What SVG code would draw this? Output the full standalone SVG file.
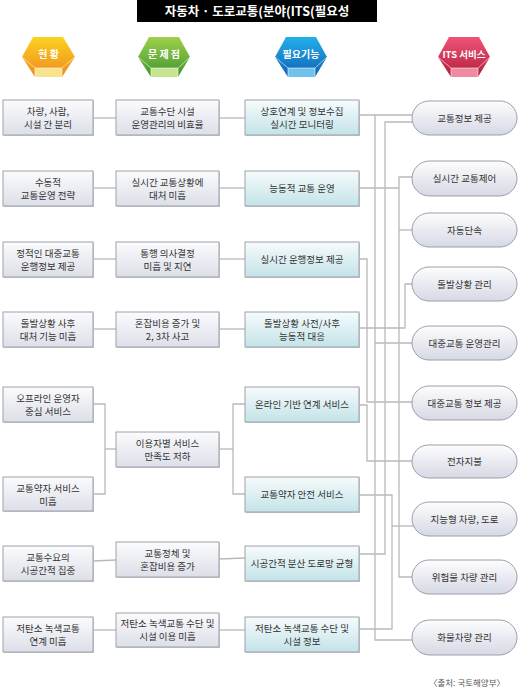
<svg xmlns="http://www.w3.org/2000/svg" width="520" height="695" viewBox="0 0 520 695">
<defs>
<linearGradient id="gBox" x1="0" y1="0" x2="0" y2="1"><stop offset="0" stop-color="#fbfbfd"/><stop offset="1" stop-color="#dcdfe8"/></linearGradient>
<linearGradient id="gCyan" x1="0" y1="0" x2="0" y2="1"><stop offset="0" stop-color="#f6fbfc"/><stop offset="1" stop-color="#c3e3e8"/></linearGradient>
<linearGradient id="gPill" x1="0" y1="0" x2="0" y2="1"><stop offset="0" stop-color="#fdfdfe"/><stop offset="1" stop-color="#d6d8e4"/></linearGradient>
<linearGradient id="gOr" x1="0" y1="0" x2="0" y2="1"><stop offset="0" stop-color="#fcd21f"/><stop offset="1" stop-color="#ee8a20"/></linearGradient>
<linearGradient id="gGr" x1="0" y1="0" x2="0" y2="1"><stop offset="0" stop-color="#9fd04a"/><stop offset="1" stop-color="#3f9530"/></linearGradient>
<linearGradient id="gBl" x1="0" y1="0" x2="0" y2="1"><stop offset="0" stop-color="#22b0ea"/><stop offset="1" stop-color="#1160b5"/></linearGradient>
<linearGradient id="gRd" x1="0" y1="0" x2="0" y2="1"><stop offset="0" stop-color="#ef5476"/><stop offset="1" stop-color="#b31e3e"/></linearGradient>
</defs>
<style>
text{font-family:"Noto Sans CJK KR","Noto Sans",sans-serif;fill:#333;font-size:9.5px;text-anchor:middle}
.box{fill:url(#gBox);stroke:#9fa2aa;stroke-width:1}
.cy{fill:url(#gCyan);stroke:#9fa2aa;stroke-width:1}
.sh{fill:#c9cbd0}
.pill{fill:url(#gPill);stroke:#9c9eab;stroke-width:1}
.ln{fill:none;stroke:#b9b9b9;stroke-width:1.3}
.hx{font-weight:bold;fill:#fff;font-size:10px}
.hedge{fill:none;stroke:#ffffff;stroke-opacity:0.7;stroke-width:0.8}
</style>
<rect x="137" y="0" width="240" height="22" fill="#000"/>
<text x="257" y="16" style="fill:#fff;font-weight:bold;font-size:12.5px">자동차 · 도로교통(분야(ITS(필요성</text>

<g id="h1">
<polygon points="33,37 63,37 75,57 62,77 35,77 22,57" fill="url(#gOr)"/>
<polygon points="35,68 62,68 62,77 35,77" fill="#f8e28c"/>
<polyline class="hedge" points="22,57 35,68 62,68 75,57"/><line class="hedge" x1="35" y1="68" x2="35" y2="77"/><line class="hedge" x1="62" y1="68" x2="62" y2="77"/>
<text class="hx" x="48.5" y="58">현 황</text>
</g>
<g id="h2">
<polygon points="149,37 179,37 190,57 178,77 151,77 138,57" fill="url(#gGr)"/>
<polygon points="151,68 178,68 178,77 151,77" fill="#c7e58e"/>
<polyline class="hedge" points="138,57 151,68 178,68 190,57"/><line class="hedge" x1="151" y1="68" x2="151" y2="77"/><line class="hedge" x1="178" y1="68" x2="178" y2="77"/>
<text class="hx" x="164" y="58">문 제 점</text>
</g>
<g id="h3">
<polygon points="286,37 316,37 327,57 315,77 288,77 275,57" fill="url(#gBl)"/>
<polygon points="288,68 315,68 315,77 288,77" fill="#6fc2ee"/>
<polyline class="hedge" points="275,57 288,68 315,68 327,57"/><line class="hedge" x1="288" y1="68" x2="288" y2="77"/><line class="hedge" x1="315" y1="68" x2="315" y2="77"/>
<text class="hx" x="301" y="58">필요기능</text>
</g>
<g id="h4">
<polygon points="449,37 479,37 490,57 478,77 451,77 438,57" fill="url(#gRd)"/>
<polygon points="451,68 478,68 478,77 451,77" fill="#f08aa0"/>
<polyline class="hedge" points="438,57 451,68 478,68 490,57"/><line class="hedge" x1="451" y1="68" x2="451" y2="77"/><line class="hedge" x1="478" y1="68" x2="478" y2="77"/>
<text class="hx" x="464" y="58" style="font-size:9.5px">ITS 서비스</text>
</g>

<g id="connectors">
<!-- col1 -> col2 -->
<line class="ln" x1="93" y1="118" x2="116" y2="118"/>
<line class="ln" x1="93" y1="188" x2="116" y2="188"/>
<line class="ln" x1="93" y1="259" x2="116" y2="259"/>
<line class="ln" x1="93" y1="329" x2="116" y2="329"/>
<polyline class="ln" points="93,404 105,404 105,494 93,494"/>
<line class="ln" x1="105" y1="449" x2="116" y2="449"/>
<line class="ln" x1="93" y1="561" x2="116" y2="560"/>
<line class="ln" x1="93" y1="630" x2="116" y2="630"/>
<!-- col2 -> col3 -->
<line class="ln" x1="219" y1="118" x2="245" y2="118"/>
<line class="ln" x1="219" y1="188" x2="245" y2="188"/>
<line class="ln" x1="219" y1="259" x2="245" y2="259"/>
<line class="ln" x1="219" y1="329" x2="245" y2="329"/>
<line class="ln" x1="219" y1="449" x2="233" y2="449"/>
<polyline class="ln" points="245,404 233,404 233,494 245,494"/>
<line class="ln" x1="219" y1="559" x2="245" y2="558"/>
<line class="ln" x1="219" y1="630" x2="245" y2="630"/>
<!-- col3 -> services -->
<line class="ln" x1="359" y1="115" x2="414" y2="115"/>
<polyline class="ln" points="375,115 375,640 414,640"/>
<line class="ln" x1="375" y1="343" x2="414" y2="343"/>
<polyline class="ln" points="359,188 399,188"/>
<polyline class="ln" points="414,177 399,177 399,577 414,577"/>
<line class="ln" x1="399" y1="230" x2="414" y2="230"/>
<polyline class="ln" points="359,259 367,259 367,402 414,402"/>
<polyline class="ln" points="359,328 405,328 405,284 414,284"/>
<polyline class="ln" points="359,405 367,405 367,461 414,461"/>
<polyline class="ln" points="359,495 392,495 392,629 359,629"/>
<line class="ln" x1="392" y1="526" x2="414" y2="526"/>
<polyline class="ln" points="359,554 385,554 385,122 414,122"/>
</g>

<!-- column 1 -->
<g id="c1r1"><rect class="sh" x="4" y="101" width="90" height="35"/><rect class="box" x="3" y="100" width="90" height="35"/><text x="48" y="115">차량, 사람,</text><text x="48" y="128">시설 간 분리</text></g>
<g id="c1r2"><rect class="sh" x="4" y="172" width="90" height="35"/><rect class="box" x="3" y="171" width="90" height="35"/><text x="48" y="186">수동적</text><text x="48" y="199">교통운영 전략</text></g>
<g id="c1r3"><rect class="sh" x="4" y="243" width="90" height="35"/><rect class="box" x="3" y="242" width="90" height="35"/><text x="48" y="257">정적인 대중교통</text><text x="48" y="270">운행정보 제공</text></g>
<g id="c1r4"><rect class="sh" x="4" y="313" width="90" height="35"/><rect class="box" x="3" y="312" width="90" height="35"/><text x="48" y="327">돌발상황 사후</text><text x="48" y="340">대처 기능 미흡</text></g>
<g id="c1r5"><rect class="sh" x="4" y="388" width="90" height="35"/><rect class="box" x="3" y="387" width="90" height="35"/><text x="48" y="402">오프라인 운영자</text><text x="48" y="415">중심 서비스</text></g>
<g id="c1r6"><rect class="sh" x="4" y="478" width="90" height="34"/><rect class="box" x="3" y="477" width="90" height="34"/><text x="48" y="492">교통약자 서비스</text><text x="48" y="505">미흡</text></g>
<g id="c1r7"><rect class="sh" x="4" y="547" width="90" height="35"/><rect class="box" x="3" y="546" width="90" height="35"/><text x="48" y="561">교통수요의</text><text x="48" y="574">시공간적 집중</text></g>
<g id="c1r8"><rect class="sh" x="4" y="618" width="90" height="35"/><rect class="box" x="3" y="617" width="90" height="35"/><text x="48" y="632">저탄소 녹색교통</text><text x="48" y="645">연계 미흡</text></g>

<!-- column 2 -->
<g id="c2r1"><rect class="sh" x="117" y="101" width="103" height="35"/><rect class="box" x="116" y="100" width="103" height="35"/><text x="167.5" y="115">교통수단 시설</text><text x="167.5" y="128">운영관리의 비효율</text></g>
<g id="c2r2"><rect class="sh" x="117" y="172" width="103" height="35"/><rect class="box" x="116" y="171" width="103" height="35"/><text x="167.5" y="186">실시간 교통상황에</text><text x="167.5" y="199">대처 미흡</text></g>
<g id="c2r3"><rect class="sh" x="117" y="243" width="103" height="35"/><rect class="box" x="116" y="242" width="103" height="35"/><text x="167.5" y="257">통행 의사결정</text><text x="167.5" y="270">미흡 및 지연</text></g>
<g id="c2r4"><rect class="sh" x="117" y="313" width="103" height="35"/><rect class="box" x="116" y="312" width="103" height="35"/><text x="167.5" y="327">혼잡비용 증가 및</text><text x="167.5" y="340">2, 3차 사고</text></g>
<g id="c2r5"><rect class="sh" x="117" y="433" width="103" height="35"/><rect class="box" x="116" y="432" width="103" height="35"/><text x="167.5" y="447">이용자별 서비스</text><text x="167.5" y="460">만족도 저하</text></g>
<g id="c2r7"><rect class="sh" x="117" y="543" width="103" height="35"/><rect class="box" x="116" y="542" width="103" height="35"/><text x="167.5" y="557">교통정체 및</text><text x="167.5" y="570">혼잡비용 증가</text></g>
<g id="c2r8"><rect class="sh" x="117" y="614" width="103" height="34"/><rect class="box" x="116" y="613" width="103" height="34"/><text x="167.5" y="627">저탄소 녹색교통 수단 및</text><text x="167.5" y="640">시설 이용 미흡</text></g>

<!-- column 3 -->
<g id="c3r1"><rect class="sh" x="246" y="101" width="114" height="35"/><rect class="cy" x="245" y="100" width="114" height="35"/><text x="302" y="115">상호연계 및 정보수집</text><text x="302" y="128">실시간 모니터링</text></g>
<g id="c3r2"><rect class="sh" x="246" y="172" width="114" height="35"/><rect class="cy" x="245" y="171" width="114" height="35"/><text x="302" y="192">능동적 교통 운영</text></g>
<g id="c3r3"><rect class="sh" x="246" y="243" width="114" height="35"/><rect class="cy" x="245" y="242" width="114" height="35"/><text x="302" y="263">실시간 운행정보 제공</text></g>
<g id="c3r4"><rect class="sh" x="246" y="313" width="114" height="35"/><rect class="cy" x="245" y="312" width="114" height="35"/><text x="302" y="327">돌발상황 사전/사후</text><text x="302" y="340">능동적 대응</text></g>
<g id="c3r5"><rect class="sh" x="246" y="388" width="114" height="35"/><rect class="cy" x="245" y="387" width="114" height="35"/><text x="302" y="408">온라인 기반 연계 서비스</text></g>
<g id="c3r6"><rect class="sh" x="246" y="478" width="114" height="35"/><rect class="cy" x="245" y="477" width="114" height="35"/><text x="302" y="498">교통약자 안전 서비스</text></g>
<g id="c3r7"><rect class="sh" x="246" y="547" width="114" height="35"/><rect class="cy" x="245" y="546" width="114" height="35"/><text x="302" y="567">시공간적 분산 도로망 균형</text></g>
<g id="c3r8"><rect class="sh" x="246" y="618" width="114" height="35"/><rect class="cy" x="245" y="617" width="114" height="35"/><text x="302" y="632">저탄소 녹색교통 수단 및</text><text x="302" y="645">시설 정보</text></g>

<!-- ITS services -->
<g id="s1"><rect class="pill" x="412" y="101" width="105" height="34" rx="17"/><text x="464.5" y="122">교통정보 제공</text></g>
<g id="s2"><rect class="pill" x="412" y="161" width="105" height="35" rx="17.5"/><text x="464.5" y="182">실시간 교통제어</text></g>
<g id="s3"><rect class="pill" x="412" y="213" width="105" height="34" rx="17"/><text x="464.5" y="234">자동단속</text></g>
<g id="s4"><rect class="pill" x="412" y="267" width="105" height="34" rx="17"/><text x="464.5" y="288">돌발상황 관리</text></g>
<g id="s5"><rect class="pill" x="412" y="326" width="105" height="34" rx="17"/><text x="464.5" y="347">대중교통 운영관리</text></g>
<g id="s6"><rect class="pill" x="412" y="386" width="105" height="34" rx="17"/><text x="464.5" y="407">대중교통 정보 제공</text></g>
<g id="s7"><rect class="pill" x="412" y="445" width="105" height="33" rx="16.5"/><text x="464.5" y="465">전자지불</text></g>
<g id="s8"><rect class="pill" x="412" y="502" width="105" height="34" rx="17"/><text x="464.5" y="523">지능형 차량, 도로</text></g>
<g id="s9"><rect class="pill" x="412" y="560" width="105" height="34" rx="17"/><text x="464.5" y="581">위험물 차량 관리</text></g>
<g id="s10"><rect class="pill" x="412" y="620" width="105" height="35" rx="17.5"/><text x="464.5" y="641">화물차량 관리</text></g>

<text x="467" y="686" style="font-size:8.5px;fill:#555">〈출처: 국토해양부〉</text>
</svg>
